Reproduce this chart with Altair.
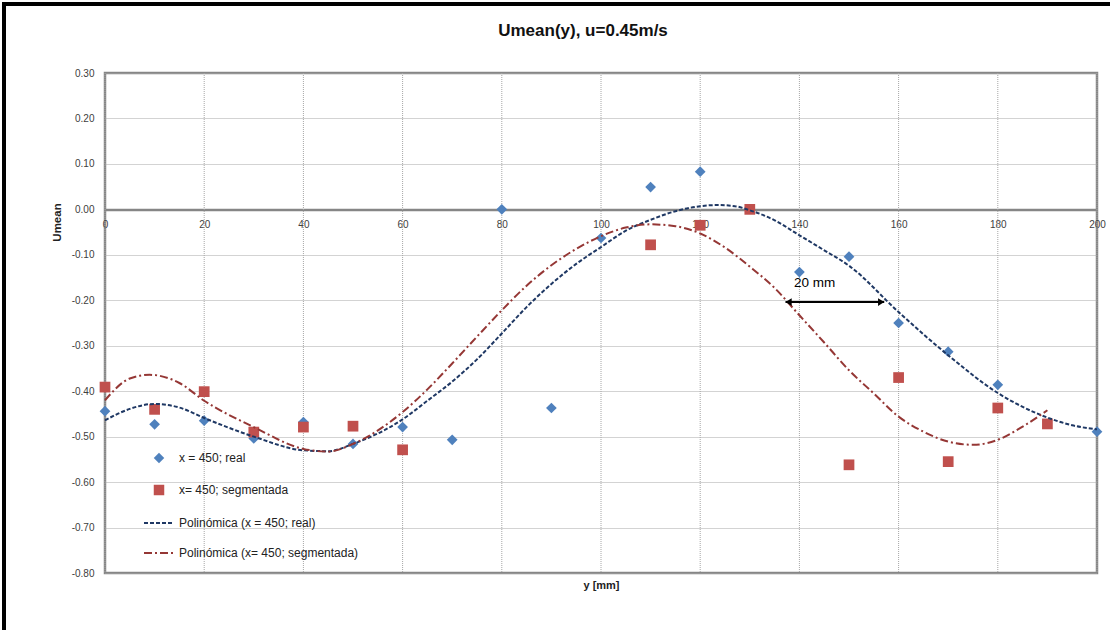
import altair as alt
import pandas as pd

FONT = "Liberation Sans, Arial, sans-serif"

# ---- data ----
S_REAL = "x = 450; real"
S_SEG = "x= 450; segmentada"
S_FREAL = "Polinómica (x = 450; real)"
S_FSEG = "Polinómica (x= 450; segmentada)"

real_x = [0, 10, 20, 30, 40, 50, 60, 70, 80, 90, 100, 110, 120, 140, 150, 160, 170, 180, 200]
real_y = [-0.444, -0.473, -0.465, -0.504, -0.468, -0.516, -0.479, -0.507, 0.0, -0.437,
          -0.063, 0.049, 0.083, -0.138, -0.104, -0.250, -0.313, -0.386, -0.489]

seg_x = [0, 10, 20, 30, 40, 50, 60, 110, 120, 130, 150, 160, 170, 180, 190]
seg_y = [-0.391, -0.440, -0.401, -0.490, -0.479, -0.477, -0.529, -0.078, -0.035, 0.0,
         -0.562, -0.370, -0.555, -0.437, -0.472]

fit_real_x = [0, 5, 10, 15, 20, 30, 40, 45, 50, 60, 65, 70, 75, 80, 85, 90, 95, 100, 105,
              110, 115, 120, 123.5, 127, 130, 135, 140, 145, 150, 160, 170, 180, 190, 195, 200]
fit_real_y = [-0.464, -0.439, -0.428, -0.436, -0.459, -0.500, -0.530, -0.532, -0.516, -0.462,
              -0.421, -0.379, -0.330, -0.273, -0.215, -0.164, -0.120, -0.083, -0.047,
              -0.023, -0.004, 0.007, 0.0095, 0.007, -0.002, -0.024, -0.057, -0.090, -0.124,
              -0.226, -0.321, -0.404, -0.458, -0.475, -0.484]

fit_seg_x = [0, 5, 9, 15, 20, 30, 40, 45, 50, 60, 65, 70, 75, 80, 85, 90, 95, 100, 105, 110,
             115, 120, 125, 130, 135, 140, 145, 150, 155, 160, 165, 170, 175, 180, 185, 190]
fit_seg_y = [-0.420, -0.372, -0.364, -0.382, -0.421, -0.479, -0.527, -0.533, -0.516, -0.446,
             -0.396, -0.339, -0.280, -0.222, -0.168, -0.123, -0.087, -0.059, -0.040, -0.033,
             -0.037, -0.053, -0.084, -0.126, -0.173, -0.233, -0.293, -0.354, -0.405, -0.456,
             -0.489, -0.511, -0.518, -0.507, -0.478, -0.442]

arrow_x = [137.2]
arrow_x2 = [157.1]
arrow_y = [-0.204]
label_x = [138.9]
label_y = [-0.163]
label_text = ["20 mm"]

x_ticks = [0, 20, 40, 60, 80, 100, 120, 140, 160, 180, 200]
y_ticks = [0.3, 0.2, 0.1, 0.0, -0.1, -0.2, -0.3, -0.4, -0.5, -0.6, -0.7, -0.8]

pt_domain = [S_REAL, S_SEG]
pt_colors = ["#4F81BD", "#C0504D"]
pt_shapes = ["diamond", "square"]
fit_domain = [S_FREAL, S_FSEG]
fit_colors = ["#1F3864", "#953735"]
fit_dashes = [[4, 2], [8, 3, 2, 3]]

# ---- tables ----
df_pts = pd.concat([
    pd.DataFrame({"x": real_x, "y": real_y, "series": S_REAL}),
    pd.DataFrame({"x": seg_x, "y": seg_y, "series": S_SEG}),
], ignore_index=True)
df_fit = pd.concat([
    pd.DataFrame({"x": fit_real_x, "y": fit_real_y, "series": S_FREAL}),
    pd.DataFrame({"x": fit_seg_x, "y": fit_seg_y, "series": S_FSEG}),
], ignore_index=True)
df_arrow = pd.DataFrame({"x": arrow_x, "x2": arrow_x2, "y": arrow_y})
df_label = pd.DataFrame({"x": label_x, "y": label_y, "t": label_text})
df_grid = pd.DataFrame({"x": x_ticks})
df_one = pd.DataFrame({"a": [0]})

xs = alt.Scale(domain=[0, 200], nice=False, zero=False)
ys = alt.Scale(domain=[-0.8, 0.3], nice=False, zero=False)

x_axis = alt.Axis(
    values=x_ticks, offset=-363.6, grid=False, ticks=False, labelFlush=False,
    domainColor="#868686", domainWidth=2.5, labelPadding=10,
    labelFont=FONT, labelFontSize=10, labelColor="#404040",
    title="y [mm]", titleFont=FONT, titleFontSize=11, titleFontWeight="bold",
    titleColor="#222222", titleY=375.6, titleBaseline="middle",
)
y_axis = alt.Axis(
    values=y_ticks, grid=True, gridColor="#A6A6A6", gridDash=[1, 1], gridWidth=1,
    ticks=False, domain=False, labelPadding=11,
    labelExpr="(datum.value < -0.0001 ? '-' : '') + format(abs(datum.value), '.2f')",
    labelFont=FONT, labelFontSize=10, labelColor="#404040",
    title="Umean", titleFont=FONT, titleFontSize=11.5, titleFontWeight="bold",
    titleColor="#222222", titleX=-48, titleY=149, titleAngle=270,
    titleAlign="center", titleBaseline="middle",
)

pt_legend = alt.Legend(
    title=None, orient="none", legendX=48, legendY=379, symbolSize=110,
    rowPadding=20, labelOffset=14, labelFont=FONT, labelFontSize=12,
    labelColor="#222222", labelLimit=400, symbolStrokeWidth=0,
)
fit_legend = alt.Legend(
    title=None, orient="none", legendX=38, legendY=434, symbolSize=900,
    rowPadding=8, labelOffset=4, labelFont=FONT, labelFontSize=12,
    labelColor="#222222", labelLimit=400, symbolStrokeWidth=2, symbolType="stroke",
)

grid = alt.Chart(df_grid).mark_rule(color="#A6A6A6", strokeDash=[1, 1], strokeWidth=1).encode(
    x=alt.X("x:Q", scale=xs, axis=x_axis)
)

pts = alt.Chart(df_pts).mark_point(filled=True, size=115, opacity=1).encode(
    x=alt.X("x:Q", scale=xs, axis=x_axis),
    y=alt.Y("y:Q", scale=ys, axis=y_axis),
    fill=alt.Fill("series:N", scale=alt.Scale(domain=pt_domain, range=pt_colors), legend=pt_legend),
    shape=alt.Shape("series:N", scale=alt.Scale(domain=pt_domain, range=pt_shapes), legend=pt_legend),
)

fits = alt.Chart(df_fit).mark_line(strokeWidth=2, interpolate="monotone").encode(
    x=alt.X("x:Q", scale=xs, axis=x_axis),
    y=alt.Y("y:Q", scale=ys, axis=y_axis),
    stroke=alt.Stroke("series:N", scale=alt.Scale(domain=fit_domain, range=fit_colors), legend=fit_legend),
    strokeDash=alt.StrokeDash("series:N", scale=alt.Scale(domain=fit_domain, range=fit_dashes), legend=fit_legend),
)

arrow_line = alt.Chart(df_arrow).mark_rule(color="black", strokeWidth=2).encode(
    x=alt.X("x:Q", scale=xs), x2="x2:Q", y=alt.Y("y:Q", scale=ys)
)
head_left = alt.Chart(df_arrow).mark_point(
    shape="M0,0L1.3,-0.8L1.3,0.8Z", filled=True, color="black", size=90, opacity=1
).encode(x=alt.X("x:Q", scale=xs), y=alt.Y("y:Q", scale=ys))
head_right = alt.Chart(df_arrow).mark_point(
    shape="M0,0L-1.3,-0.8L-1.3,0.8Z", filled=True, color="black", size=90, opacity=1
).encode(x=alt.X("x2:Q", scale=xs), y=alt.Y("y:Q", scale=ys))

label = alt.Chart(df_label).mark_text(
    align="left", baseline="middle", font=FONT, fontSize=13.5, color="black"
).encode(x=alt.X("x:Q", scale=xs), y=alt.Y("y:Q", scale=ys), text="t:N")

border_top = alt.Chart(df_one).mark_rule(color="black", strokeWidth=4).encode(
    x=alt.value(-103), x2=alt.value(1005), y=alt.value(-69)
)
border_left = alt.Chart(df_one).mark_rule(color="black", strokeWidth=4).encode(
    x=alt.value(-101), y=alt.value(-71), y2=alt.value(557)
)

chart = alt.layer(
    grid, pts, fits, arrow_line, head_left, head_right, label, border_top, border_left
).properties(
    width=992, height=500,
    padding={"left": 105, "top": 73, "right": 13, "bottom": 57},
    autosize=alt.AutoSizeParams(type="none"),
    title=alt.TitleParams(
        "Umean(y), u=0.45m/s", font=FONT, fontSize=17, fontWeight="bold",
        color="#111111", anchor="middle", dx=-18, offset=-40,
    ),
    background="white",
).configure_view(stroke="#868686", strokeWidth=2.5)

chart.save("out.html", embed_options={"renderer": "svg", "actions": False})
